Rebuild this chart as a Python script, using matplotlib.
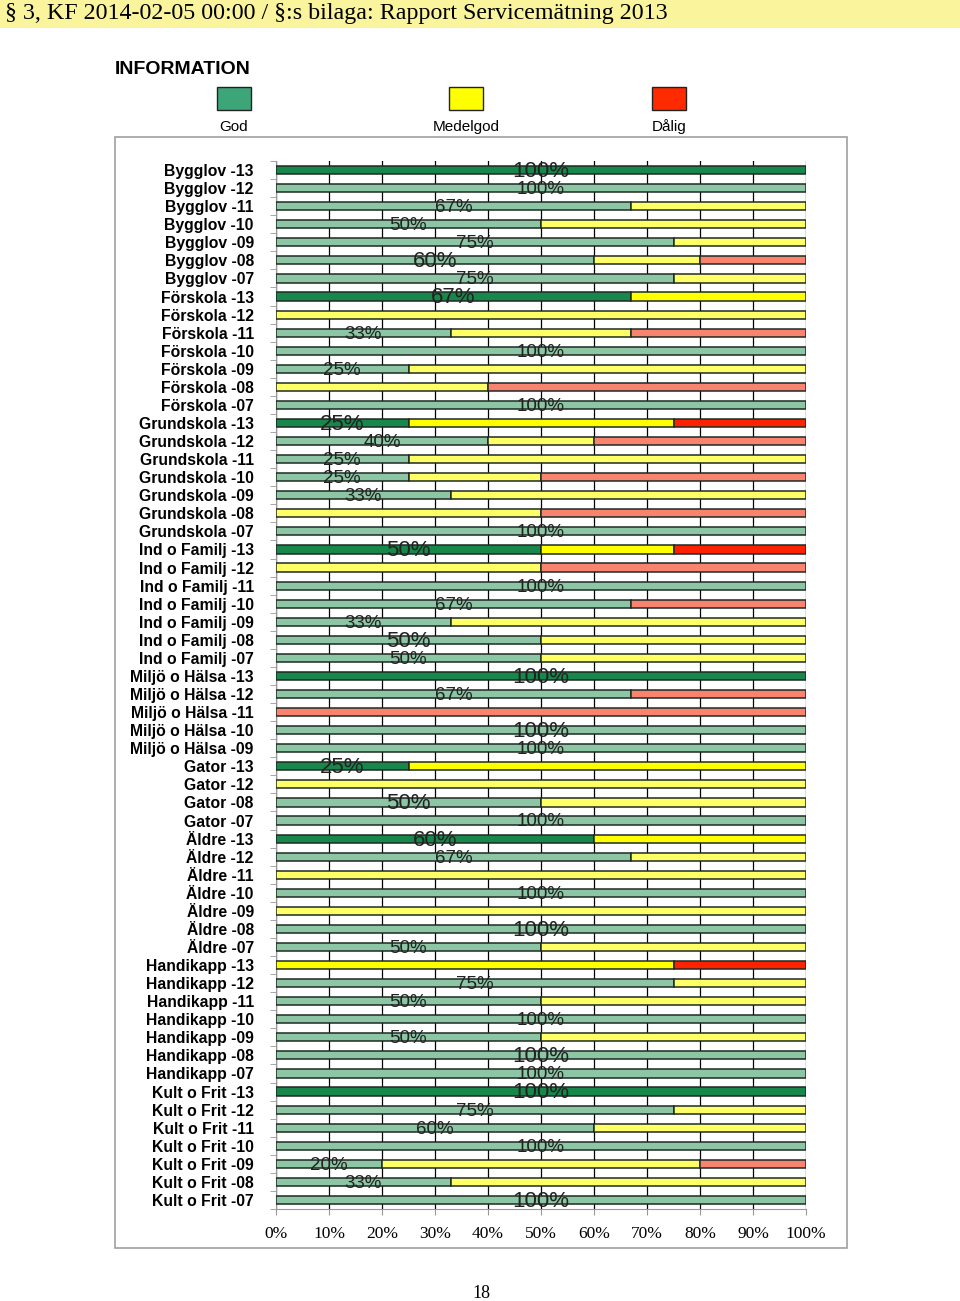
import numpy as np
import matplotlib.pyplot as plt
from matplotlib.patches import Rectangle
from matplotlib.ticker import FixedLocator

# rows top to bottom: label, god %, medelgod %, dalig %
labels = [
    "Bygglov -13", "Bygglov -12", "Bygglov -11", "Bygglov -10", "Bygglov -09", "Bygglov -08", "Bygglov -07",
    "Förskola -13", "Förskola -12", "Förskola -11", "Förskola -10", "Förskola -09", "Förskola -08", "Förskola -07",
    "Grundskola -13", "Grundskola -12", "Grundskola -11", "Grundskola -10", "Grundskola -09", "Grundskola -08", "Grundskola -07",
    "Ind o Familj -13", "Ind o Familj -12", "Ind o Familj -11", "Ind o Familj -10", "Ind o Familj -09", "Ind o Familj -08", "Ind o Familj -07",
    "Miljö o Hälsa -13", "Miljö o Hälsa -12", "Miljö o Hälsa -11", "Miljö o Hälsa -10", "Miljö o Hälsa -09",
    "Gator -13", "Gator -12", "Gator -08", "Gator -07",
    "Äldre -13", "Äldre -12", "Äldre -11", "Äldre -10", "Äldre -09", "Äldre -08", "Äldre -07",
    "Handikapp -13", "Handikapp -12", "Handikapp -11", "Handikapp -10", "Handikapp -09", "Handikapp -08", "Handikapp -07",
    "Kult o Frit -13", "Kult o Frit -12", "Kult o Frit -11", "Kult o Frit -10", "Kult o Frit -09", "Kult o Frit -08", "Kult o Frit -07",
]
god = [100, 100, 67, 50, 75, 60, 75,
       67, 0, 33, 100, 25, 0, 100,
       25, 40, 25, 25, 33, 0, 100,
       50, 0, 100, 67, 33, 50, 50,
       100, 67, 0, 100, 100,
       25, 0, 50, 100,
       60, 67, 0, 100, 0, 100, 50,
       0, 75, 50, 100, 50, 100, 100,
       100, 75, 60, 100, 20, 33, 100]
medelgod = [0, 0, 33, 50, 25, 20, 25,
            33, 100, 34, 0, 75, 40, 0,
            50, 20, 75, 25, 67, 50, 0,
            25, 50, 0, 0, 67, 50, 50,
            0, 0, 0, 0, 0,
            75, 100, 50, 0,
            40, 33, 100, 0, 100, 0, 50,
            75, 25, 50, 0, 50, 0, 0,
            0, 25, 40, 0, 60, 67, 0]
dalig = [0, 0, 0, 0, 0, 20, 0,
         0, 0, 33, 0, 0, 60, 0,
         25, 40, 0, 50, 0, 50, 0,
         25, 50, 0, 33, 0, 0, 0,
         0, 33, 100, 0, 0,
         0, 0, 0, 0,
         0, 0, 0, 0, 0, 0, 0,
         25, 0, 0, 0, 0, 0, 0,
         0, 0, 0, 0, 20, 0, 0]
# labels that appear in a larger type in the original
big_labels = {"Bygglov -08", "Ind o Familj -08", "Miljö o Hälsa -10", "Gator -08",
              "Äldre -08", "Handikapp -08", "Kult o Frit -07"}

col_cur = ["#17874B", "#FFFF00", "#FF2200"]
col_old = ["#8CC6A4", "#FFFF66", "#F88470"]

fig = plt.figure(figsize=(9.6, 13.01), dpi=100)

# header band
fig.patches.append(Rectangle((0, 1 - 28 / 1301), 1, 28 / 1301, transform=fig.transFigure,
                             facecolor="#FAF59C", edgecolor="none", zorder=0))
fig.text(5 / 960, 1 - 14 / 1301, "§ 3, KF 2014-02-05 00:00 / §:s bilaga: Rapport Servicemätning 2013",
         family="Liberation Serif", fontsize=17.3, va="center", ha="left")

fig.text(115 / 960, 1 - 70 / 1301, "INFORMATION", family="Liberation Sans", fontweight="bold",
         fontsize=14, va="center", ha="left")
for cx, name, c in [(234, "God", "#3DA679"), (466, "Medelgod", "#FFFF00"), (669, "Dålig", "#FF2A00")]:
    fig.patches.append(Rectangle(((cx - 17) / 960, 1 - 110 / 1301), 34 / 960, 23 / 1301,
                                 transform=fig.transFigure, facecolor=c, edgecolor="#222222", lw=1))
    fig.text(cx / 960, 1 - 127 / 1301, name, family="Liberation Sans", fontsize=11, ha="center", va="center")

# chart frame
fig.patches.append(Rectangle((115 / 960, 1 - 1248 / 1301), 732 / 960, 1111 / 1301,
                             transform=fig.transFigure, facecolor="none", edgecolor="#A0A0A0", lw=1.2))

ax = fig.add_axes([276 / 960, 1 - 1209 / 1301, 530 / 960, 1048 / 1301])
y = np.arange(len(labels))
for i in y:
    cols = col_cur if labels[i].endswith("-13") else col_old
    left = 0
    for v, c in zip([god[i], medelgod[i], dalig[i]], cols):
        if v > 0:
            ax.barh(i, v, left=left, height=0.45, color=c, edgecolor="#1E2A22", lw=1.1, zorder=3)
        left += v
    if god[i] > 0:
        big = labels[i].endswith("-13") or labels[i] in big_labels
        ax.text(god[i] / 2, i + 0.08, f"{god[i]}%", ha="center", va="center",
                family="Liberation Sans", fontsize=16 if big else 13.5, color="#222222", zorder=4)

ax.set_xlim(0, 100)
ax.set_ylim(len(labels) - 0.5, -0.5)
ax.set_xticks(np.arange(0, 101, 10))
ax.set_xticklabels([f"{t}%" for t in range(0, 101, 10)], family="Liberation Serif", fontsize=12.5)
ax.set_yticks(y)
ax.set_yticklabels(labels, family="Liberation Sans", fontweight="bold", fontsize=11.3)
ax.yaxis.set_minor_locator(FixedLocator(np.arange(-0.5, len(labels), 1)))
ax.tick_params(axis="y", which="major", length=0, pad=16)
ax.tick_params(axis="y", which="minor", length=4, color="#999999")
ax.tick_params(axis="x", length=4, color="#999999", pad=8)
ax.grid(axis="x", color="#000000", lw=0.9, zorder=1)
for s in ["top", "right"]:
    ax.spines[s].set_visible(False)
ax.spines["left"].set_color("#999999")
ax.spines["bottom"].set_color("#999999")

fig.text(481 / 960, 1 - 1293 / 1301, "18", family="Liberation Serif", fontsize=13, ha="center", va="center")

fig.savefig("out.png", dpi=100)
